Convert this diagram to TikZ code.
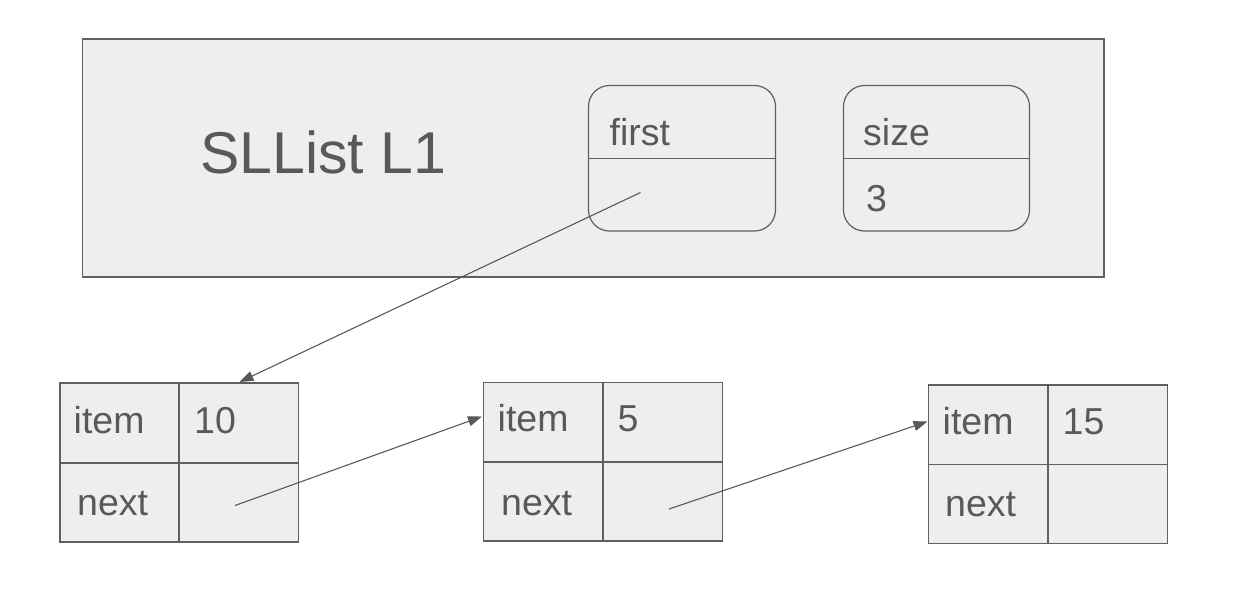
\documentclass[tikz,border=0pt]{standalone}
\usepackage{fontspec}
\setmainfont{Liberation Sans}
\usetikzlibrary{arrows.meta}
\definecolor{txt}{HTML}{595959}
\definecolor{edge}{HTML}{5F5F5F}
\definecolor{boxfill}{HTML}{EEEEEE}
\begin{document}
\begin{tikzpicture}[x=1pt,y=-1pt,
  panel/.style={draw=edge,fill=boxfill,line width=1.3pt},
  field/.style={draw=edge,fill=boxfill,line width=1.2pt,rounded corners=21pt},
  cell/.style={draw=edge,fill=boxfill,line width=1.2pt},
  lbl/.style={anchor=base west,inner sep=0pt,text=txt,font=\fontsize{37.5}{44}\selectfont},
  title/.style={anchor=base west,inner sep=0pt,text=txt,font=\fontsize{59}{68}\selectfont},
  ptr/.style={draw=txt,line width=1.1pt,-{Triangle[length=14pt,width=10pt]}}]
\useasboundingbox (0,0) rectangle (1246,589);
% outer SLList box
\draw[panel] (82.5,39) rectangle (1104,277) coordinate (outerSE);
\node[title] (ttl) at (200,173.5) {SLList L1};
% first field
\draw[field] (588.5,85.5) rectangle (775.5,231);
\draw[edge,line width=1.2pt] (588.5,158.5) -- (775.5,158.5);
\node[lbl] (lfirst) at (609.5,145) {first};
% size field
\draw[field] (843.5,85.5) rectangle (1029.5,231);
\draw[edge,line width=1.2pt] (843.5,158.5) -- (1029.5,158.5);
\node[lbl] (lsize) at (863,145) {size};
\node[lbl] (vsize) at (866,211.5) {3};
% node 1
\draw[cell] (60,383) rectangle (298.5,542);
\draw[edge,line width=1.2pt] (179,383) -- (179,542);
\draw[edge,line width=1.2pt] (60,463) -- (298.5,463);
\node[lbl] (i1) at (73.5,433) {item};
\node[lbl] (v1) at (194,433) {10};
\node[lbl] (n1) at (77,515.5) {next};
% node 2
\draw[cell] (483.5,382.5) rectangle (722.5,541);
\draw[edge,line width=1.2pt] (603,382.5) -- (603,541);
\draw[edge,line width=1.2pt] (483.5,462) -- (722.5,462);
\node[lbl] (i2) at (497.5,431.5) {item};
\node[lbl] (v2) at (617.5,431.5) {5};
\node[lbl] (n2) at (501,515) {next};
% node 3
\draw[cell] (928.5,385) rectangle (1167.5,543.5);
\draw[edge,line width=1.2pt] (1048,385) -- (1048,543.5);
\draw[edge,line width=1.2pt] (928.5,464.5) -- (1167.5,464.5);
\node[lbl] (i3) at (942.5,434) {item};
\node[lbl] (v3) at (1062.5,434) {15};
\node[lbl] (n3) at (945,516.5) {next};
% pointer ends
\coordinate (pfirst) at (640.5,192.5);
\coordinate (t1) at (239.5,382);
\coordinate (p1) at (235,505.5);
\coordinate (t2) at (482,416.5);
\coordinate (p2) at (669,509);
\coordinate (t3) at (927.5,421.5);
\draw[ptr] (pfirst) -- (t1);
\draw[ptr] (p1) -- (t2);
\draw[ptr] (p2) -- (t3);
\end{tikzpicture}
\end{document}
